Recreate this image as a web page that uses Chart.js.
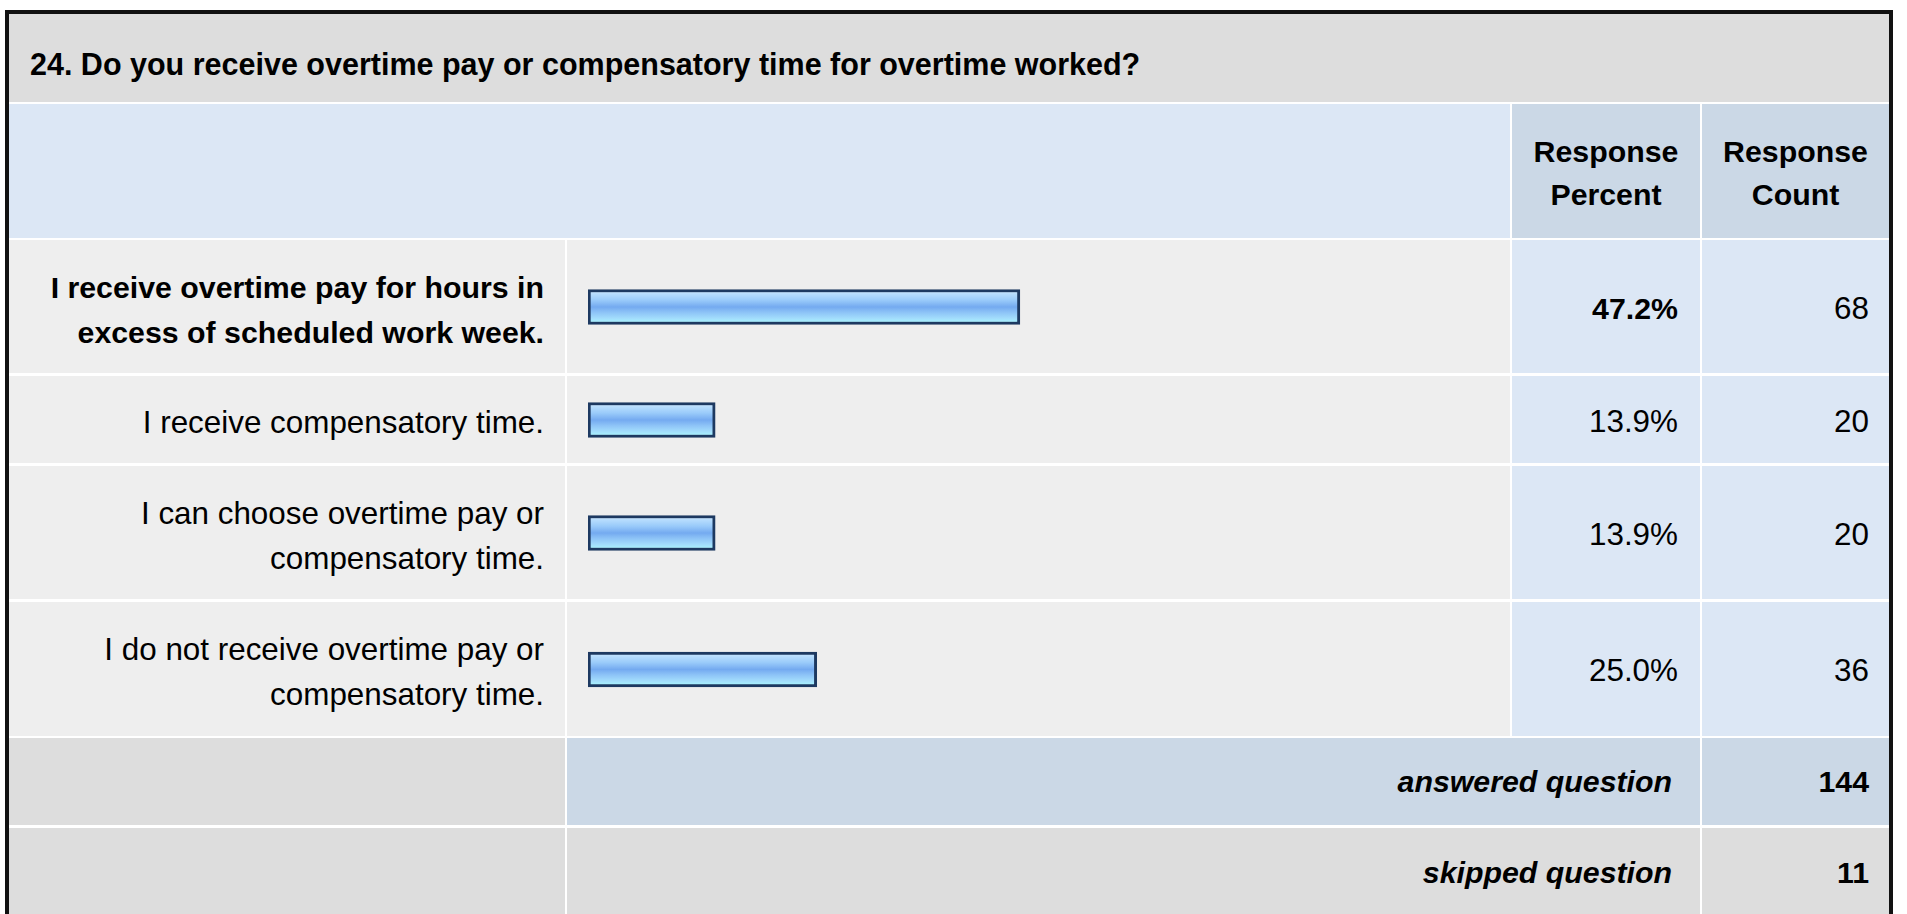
<!DOCTYPE html>
<html>
<head>
<meta charset="utf-8">
<title>Overtime pay survey</title>
<script src="https://cdn.jsdelivr.net/npm/chart.js@4.4.0/dist/chart.umd.min.js"></script>
<style>
  html, body { margin: 0; padding: 0; background: #fff; overflow: hidden; }
  body { width: 1907px; height: 914px; position: relative; font-family: "Liberation Sans", Arial, sans-serif; color: #000; }
  #frame { position: absolute; left: 5px; top: 10px; width: 1880px; height: 1000px; border: 4px solid #111; box-sizing: content-box; }
  .cell { position: absolute; box-sizing: border-box; display: flex; align-items: center; }
  .txt { position: relative; top: 2px; font-size: 31.4px; white-space: nowrap; }
  .bold { font-weight: bold; font-size: 30.3px; }
  .right { justify-content: flex-end; text-align: right; }
  .center { justify-content: center; text-align: center; }
  canvas { display: block; }
</style>
</head>
<body>
<div id="frame"></div>
<div id="table"></div>

<script>
// question + answers
const questionTitle = '24. Do you receive overtime pay or compensatory time for overtime worked?'
const headerPercent = ['Response', 'Percent']
const headerCount = ['Response', 'Count']

const categories = [
    ['I receive overtime pay for hours in', 'excess of scheduled work week.'],
    ['I receive compensatory time.'],
    ['I can choose overtime pay or', 'compensatory time.'],
    ['I do not receive overtime pay or', 'compensatory time.']
]
const responsePercent = [47.2, 13.9, 13.9, 25.0]
const responseCount = [68, 20, 20, 36]

const answeredLabel = 'answered question'
const skippedLabel = 'skipped question'
const answeredCount = 144
const skippedCount = 11

// layout (page pixels)
const colLabel = [9, 565]
const colBar = [567, 1510]
const colPct = [1512, 1700]
const colCnt = [1702, 1889]
const rowTops = [240, 376, 466, 602]
const rowBottoms = [373, 463, 599, 736]

const table = document.querySelector('#table')

function cell(x1, y1, x2, y2, bg, cls) {
    let d = document.createElement('div')
    d.className = 'cell ' + (cls || '')
    d.style.left = x1 + 'px'
    d.style.top = y1 + 'px'
    d.style.width = (x2 - x1) + 'px'
    d.style.height = (y2 - y1) + 'px'
    d.style.background = bg
    table.appendChild(d)
    return d
}

function text(parent, lines, cls, lineHeight, extra) {
    let t = document.createElement('div')
    t.className = 'txt ' + (cls || '')
    t.style.lineHeight = (lineHeight || 44) + 'px'
    if (extra) Object.assign(t.style, extra)
    t.innerHTML = lines.map(l => l.replace(/&/g, '&amp;').replace(/</g, '&lt;')).join('<br>')
    parent.appendChild(t)
    return t
}

// title band
let title = cell(9, 14, 1889, 102, '#dddddd')
text(title, [questionTitle], 'bold', 34, { left: '21px', top: '6px', fontSize: '30.5px' })

// header band
cell(9, 104, 1510, 238, '#dce7f5')
let hp = cell(colPct[0], 104, colPct[1], 238, '#cbd8e6', 'center')
text(hp, headerPercent, 'bold', 43)
let hc = cell(colCnt[0], 104, colCnt[1], 238, '#cbd8e6', 'center')
text(hc, headerCount, 'bold', 43)

// answer rows
const maxPct = Math.max(...responsePercent)

function barGradient(context) {
    const chart = context.chart
    const area = chart.chartArea
    if (!area) return '#8cc0f7'
    const mid = chart.scales.y.getPixelForValue(0)
    const g = chart.ctx.createLinearGradient(0, mid - 17.5, 0, mid + 17.5)
    g.addColorStop(0.00, '#d2eaff')
    g.addColorStop(0.14, '#b4dbfd')
    g.addColorStop(0.30, '#9acbfa')
    g.addColorStop(0.50, '#74aaf0')
    g.addColorStop(0.66, '#8ec4f7')
    g.addColorStop(0.82, '#a2dcfc')
    g.addColorStop(1.00, '#aaffff')
    return g
}

for (let i = 0; i < categories.length; i++) {
    const top = rowTops[i]
    const bottom = rowBottoms[i]
    const isTop = responsePercent[i] === maxPct

    let lc = cell(colLabel[0], top, colLabel[1], bottom, '#eeeeee', 'right')
    text(lc, categories[i], isTop ? 'bold' : '', 45, { right: '21px', top: '3px' })

    let bc = cell(colBar[0], top, colBar[1], bottom, '#eeeeee')
    let canvas = document.createElement('canvas')
    canvas.width = colBar[1] - colBar[0]
    canvas.height = bottom - top
    bc.appendChild(canvas)

    new Chart(canvas, {
        type: 'bar',
        data: {
            labels: [categories[i].join(' ')],
            datasets: [{
                data: [responsePercent[i]],
                backgroundColor: barGradient,
                borderColor: '#1d3961',
                borderWidth: 3,
                borderSkipped: false,
                barThickness: 35
            }]
        },
        options: {
            indexAxis: 'y',
            responsive: false,
            animation: false,
            layout: { padding: { left: 21, right: 7, top: 1, bottom: 0 } },
            scales: {
                x: { min: 0, max: 100, display: false },
                y: { display: false }
            },
            plugins: { legend: { display: false }, tooltip: { enabled: false } }
        }
    })

    let pc = cell(colPct[0], top, colPct[1], bottom, '#dce7f5', 'right')
    text(pc, [responsePercent[i].toFixed(1) + '%'], isTop ? 'bold' : '', 44, { right: '22px' })

    let cc = cell(colCnt[0], top, colCnt[1], bottom, '#dce7f5', 'right')
    text(cc, [String(responseCount[i])], '', 44, { right: '20px' })
}

// totals
cell(colLabel[0], 738, colLabel[1], 825, '#dddddd')
let ans = cell(colBar[0], 738, colPct[1], 825, '#cbd8e6', 'right')
text(ans, [answeredLabel], 'bold', 44, { right: '28px', fontStyle: 'italic', top: '0px' })
let ansN = cell(colCnt[0], 738, colCnt[1], 825, '#cbd8e6', 'right')
text(ansN, [String(answeredCount)], 'bold', 44, { right: '20px', top: '0px' })

cell(colLabel[0], 828, colLabel[1], 918, '#dddddd')
let sk = cell(colBar[0], 828, colPct[1], 918, '#dddddd', 'right')
text(sk, [skippedLabel], 'bold', 44, { right: '28px', fontStyle: 'italic', top: '0px' })
let skN = cell(colCnt[0], 828, colCnt[1], 918, '#dddddd', 'right')
text(skN, [String(skippedCount)], 'bold', 44, { right: '20px', top: '0px' })
</script>
</body>
</html>
